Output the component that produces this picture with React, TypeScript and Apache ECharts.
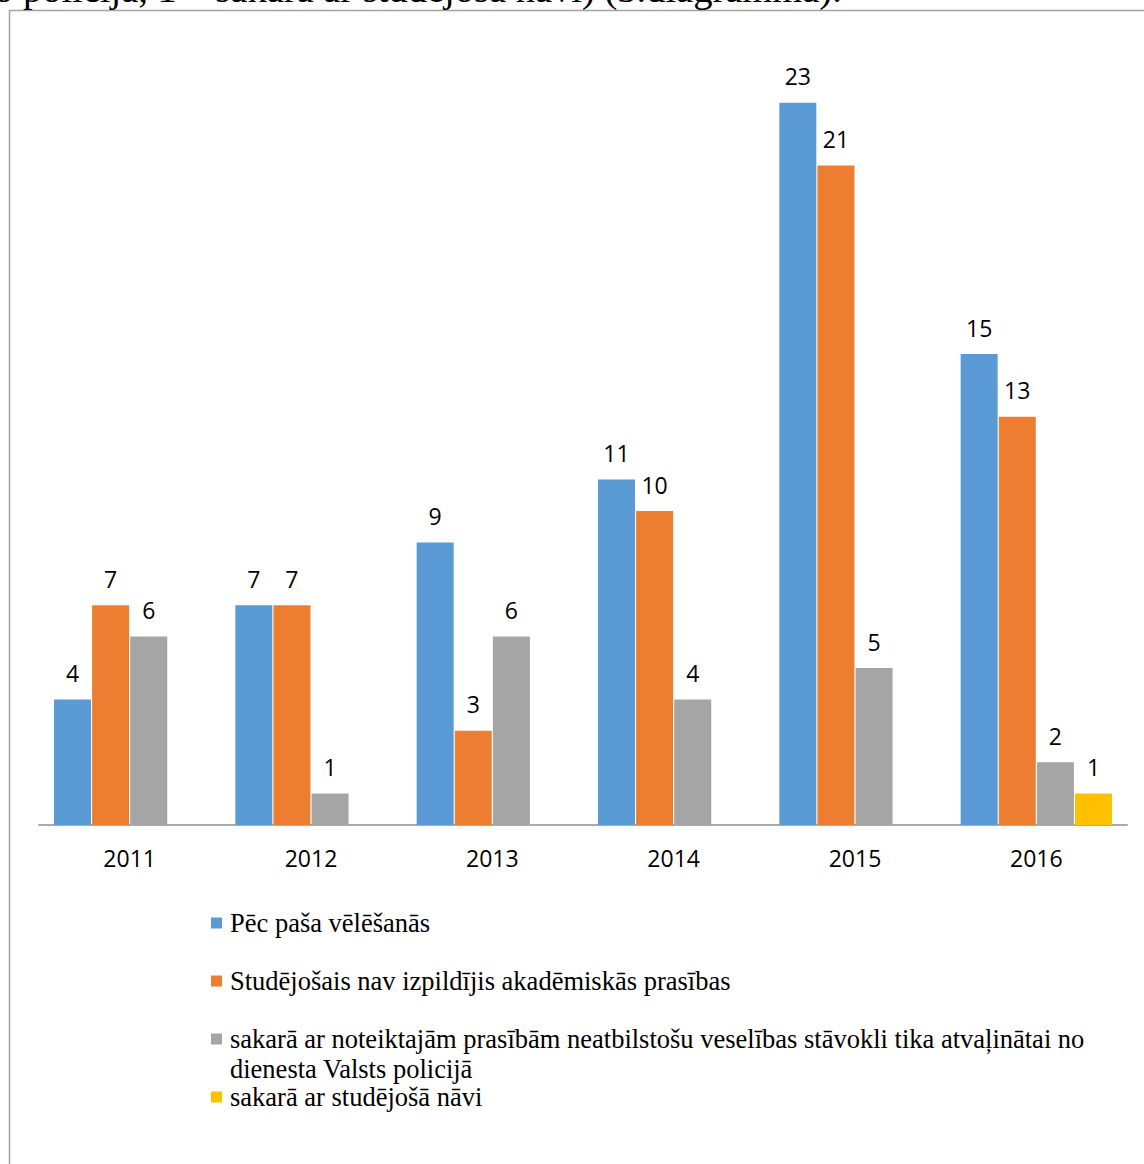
import React, { useEffect, useRef } from "react";
import * as echarts from "echarts";

const years = ["2011", "2012", "2013", "2014", "2015", "2016"];
const seriesNames = [
  "Pēc paša vēlēšanās",
  "Studējošais nav izpildījis akadēmiskās prasības",
  "sakarā ar noteiktajām prasībām neatbilstošu veselības stāvokli tika atvaļinātai no dienesta Valsts policijā",
  "sakarā ar studējošā nāvi",
];
const ownWish = [4, 7, 9, 11, 23, 15];
const academic = [7, 7, 3, 10, 21, 13];
const health = [6, 1, 6, 4, 5, 2];
const death = [0, 0, 0, 0, 0, 1];
const colors = ["#5B9BD5", "#ED7D31", "#A5A5A5", "#FFC000"];
const headerText = "o policijā, 1 – sakarā ar studējošā nāvi) (3.diagramma).";

const legendTops = [908, 966, 994, 1082];

export default function App() {
  const ref = useRef<HTMLDivElement>(null);
  useEffect(() => {
    if (!ref.current) return;
    const chart = echarts.init(ref.current, null, { renderer: "svg" });
    const values = [ownWish, academic, health, death];
    const option: any = {
      animation: false,
      backgroundColor: "#ffffff",
      grid: { left: 39, right: 17, top: 40, bottom: 339, containLabel: false },
      xAxis: {
        type: "category",
        data: years,
        axisLine: { show: true, lineStyle: { color: "#ababab", width: 2 } },
        axisTick: { show: false },
        axisLabel: {
          color: "#000",
          fontFamily: "Open Sans",
          fontSize: 23,
          margin: 21,
        },
      },
      yAxis: {
        type: "value",
        min: 0,
        max: 25,
        show: false,
        splitLine: { show: false },
      },
      legend: seriesNames.map((n, i) => ({
        data: [n],
        orient: "vertical",
        left: 211,
        top: legendTops[i],
        padding: 0,
        itemWidth: 11,
        itemHeight: 11,
        icon: "rect",
        selectedMode: false,
        formatter: (name: string) =>
          i === 2
            ? "\nsakarā ar noteiktajām prasībām neatbilstošu veselības stāvokli tika atvaļinātai no\ndienesta Valsts policijā"
            : name,
        textStyle: {
          fontFamily: "Liberation Serif",
          fontSize: 26.5,
          lineHeight: 30,
          color: "#000",
          padding: [0, 0, 0, 3],
        },
      })),
      series: values.map((v, i) => ({
        name: seriesNames[i],
        type: "bar",
        data: v,
        barWidth: 37,
        barGap: "3%",
        itemStyle: { color: colors[i] },
        label: {
          show: true,
          position: "top",
          distance: 15,
          color: "#000",
          fontFamily: "Open Sans",
          fontSize: 23,
          formatter: (p: any) => (p.value ? String(p.value) : ""),
        },
      })),
      graphic: [
        {
          type: "rect",
          shape: { x: 9.5, y: 10.5, width: 1300, height: 1300 },
          style: { fill: "none", stroke: "#a3a3a3", lineWidth: 1.5 },
          silent: true,
        },
        {
          type: "text",
          x: -6,
          y: -11,
          style: {
            text: headerText,
            fontFamily: "Liberation Serif",
            fontSize: 38.5,
            fill: "#000",
            verticalAlign: "middle",
          },
          silent: true,
        },
      ],
    };
    chart.setOption(option);
    return () => chart.dispose();
  }, []);
  return (
    <div
      ref={ref}
      style={{ position: "absolute", left: 0, top: 0, width: 1144, height: 1164 }}
    />
  );
}
